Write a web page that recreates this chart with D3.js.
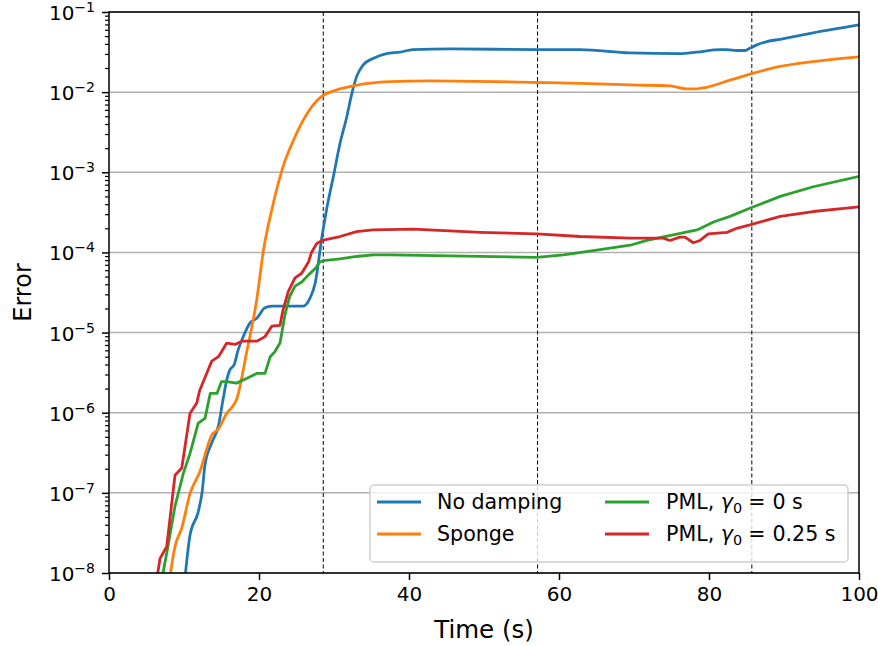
<!DOCTYPE html>
<html>
<head>
<meta charset="utf-8">
<script src="https://cdn.jsdelivr.net/npm/d3@7"></script>
<style>
  body { margin: 0; background: #fff; }
  svg text { font-family: "DejaVu Sans", sans-serif; fill: #000; }
</style>
</head>
<body>
<svg id="chart" width="878" height="646"></svg>
<script>
// Error against time for the four boundary treatments (s, absolute error)
const noDampingTime = [10.2, 10.8, 11.9, 12.4, 12.8, 13.7, 14.6, 15.2, 15.7, 16.1, 16.7, 17.2, 17.9, 18.8, 19.7, 20.8, 21.7, 25.9, 26.8, 27.5, 28.4, 29.0, 29.9, 30.8, 31.7, 32.4, 33.0, 33.9, 35.2, 37.0, 38.8, 40.5, 45.5, 57.0, 62.8, 69.5, 76.1, 78.4, 81.5, 82.4, 83.7, 84.8, 85.5, 86.4, 87.7, 89.5, 93.9, 100];
const noDampingError = [1e-8, 2.95e-8, 5.8e-8, 1.0e-7, 2.24e-7, 4.2e-7, 6.9e-7, 1.45e-6, 2.57e-6, 3.4e-6, 4.0e-6, 6.0e-6, 8.9e-6, 1.32e-5, 1.51e-5, 2.04e-5, 2.14e-5, 2.14e-5, 2.69e-5, 4.17e-5, 1.58e-4, 3.39e-4, 8.7e-4, 2.29e-3, 4.9e-3, 9.8e-3, 0.0155, 0.0219, 0.0263, 0.0302, 0.0316, 0.0339, 0.0347, 0.0339, 0.0339, 0.0309, 0.0302, 0.0316, 0.0339, 0.0339, 0.0331, 0.0331, 0.0355, 0.0389, 0.0427, 0.0457, 0.055, 0.069];

const spongeTime = [8.2, 8.8, 9.7, 10.8, 12.1, 13.7, 14.6, 15.7, 16.4, 17.0, 18.4, 19.7, 20.6, 21.7, 23.2, 24.6, 25.9, 27.2, 28.4, 30.4, 32.6, 37.5, 42.8, 57.0, 62.8, 69.5, 74.8, 77.0, 78.4, 79.7, 82.8, 85.7, 89.5, 93.9, 100];
const spongeError = [1e-8, 2.14e-8, 3.63e-8, 9.8e-8, 1.82e-7, 5.25e-7, 6.3e-7, 9.8e-7, 1.17e-6, 1.45e-6, 6.0e-6, 2.57e-5, 1.07e-4, 3.39e-4, 1.17e-3, 2.51e-3, 4.47e-3, 6.9e-3, 8.9e-3, 0.0107, 0.0120, 0.0135, 0.0138, 0.0132, 0.0129, 0.0123, 0.0120, 0.0110, 0.0110, 0.0115, 0.0141, 0.0170, 0.0209, 0.0240, 0.0275];

const pml0Time = [7.2, 7.7, 8.8, 9.9, 10.8, 11.9, 12.8, 13.5, 14.4, 15.0, 15.7, 17.0, 18.4, 19.7, 20.8, 21.5, 22.1, 22.8, 23.5, 24.1, 24.8, 25.7, 26.6, 27.5, 28.1, 28.6, 30.8, 33.0, 35.2, 37.5, 57.0, 60.6, 65.0, 69.5, 71.7, 78.4, 80.6, 82.8, 85.7, 89.5, 93.9, 100];
const pml0Error = [1e-8, 1.78e-8, 6.8e-8, 1.74e-7, 3.1e-7, 7.4e-7, 8.5e-7, 1.74e-6, 1.74e-6, 2.45e-6, 2.45e-6, 2.34e-6, 2.69e-6, 3.09e-6, 3.09e-6, 5.0e-6, 5.75e-6, 7.4e-6, 1.74e-5, 2.82e-5, 3.8e-5, 4.27e-5, 5.25e-5, 6.3e-5, 7.6e-5, 7.9e-5, 8.3e-5, 8.9e-5, 9.3e-5, 9.3e-5, 8.7e-5, 9.3e-5, 1.07e-4, 1.23e-4, 1.41e-4, 1.91e-4, 2.4e-4, 2.82e-4, 3.63e-4, 5.0e-4, 6.6e-4, 8.9e-4];

const pml25Time = [6.5, 6.8, 7.7, 8.8, 9.7, 10.8, 11.7, 12.1, 12.8, 13.7, 14.6, 15.7, 16.8, 17.7, 19.7, 20.8, 21.7, 22.8, 23.2, 23.9, 24.8, 25.7, 26.6, 27.0, 27.7, 28.4, 30.8, 33.0, 35.2, 40.6, 49.5, 57.0, 62.8, 69.5, 73.9, 74.8, 76.1, 76.8, 77.9, 78.8, 79.9, 82.4, 83.7, 85.7, 89.5, 93.9, 100];
const pml25Error = [1e-8, 1.51e-8, 2.14e-8, 1.66e-7, 2.04e-7, 9.8e-7, 1.32e-6, 1.91e-6, 2.75e-6, 4.4e-6, 5.0e-6, 7.4e-6, 7.1e-6, 7.8e-6, 7.8e-6, 8.9e-6, 1.2e-5, 1.23e-5, 1.91e-5, 3.24e-5, 4.8e-5, 5.5e-5, 7.6e-5, 1.0e-4, 1.29e-4, 1.41e-4, 1.58e-4, 1.82e-4, 1.91e-4, 1.95e-4, 1.78e-4, 1.70e-4, 1.58e-4, 1.51e-4, 1.51e-4, 1.41e-4, 1.55e-4, 1.55e-4, 1.32e-4, 1.41e-4, 1.70e-4, 1.78e-4, 2.0e-4, 2.24e-4, 2.82e-4, 3.24e-4, 3.7e-4];

// Region boundaries marked with dashed lines (s)
const boundaryTimes = [28.57, 57.14, 85.71];

const xTicks = [0, 20, 40, 60, 80, 100];
const yTickExponents = [-8, -7, -6, -5, -4, -3, -2, -1];

const seriesNames = ["No damping", "Sponge", "PML, γ0 = 0 s", "PML, γ0 = 0.25 s"];
const seriesColors = ["#1f77b4", "#ff7f0e", "#2ca02c", "#d62728"];

// Smooth curves for the undamped and sponge runs, straight segments for the PML runs
const series = [
  { name: seriesNames[0], color: seriesColors[0], t: noDampingTime, e: noDampingError, curve: d3.curveMonotoneX },
  { name: seriesNames[1], color: seriesColors[1], t: spongeTime, e: spongeError, curve: d3.curveMonotoneX },
  { name: seriesNames[2], color: seriesColors[2], t: pml0Time, e: pml0Error, curve: d3.curveLinear },
  { name: seriesNames[3], color: seriesColors[3], t: pml25Time, e: pml25Error, curve: d3.curveLinear }
];

const svg = d3.select("#chart");
const plot = { left: 109, right: 859, top: 12, bottom: 573 };
const FS = 20;

const x = d3.scaleLinear().domain([0, 100]).range([plot.left, plot.right]);
const y = d3.scaleLog().domain([1e-8, 1e-1]).range([plot.bottom, plot.top]);

svg.append("rect").attr("width", 878).attr("height", 646).attr("fill", "#fff");

svg.append("defs").append("clipPath").attr("id", "plotClip")
  .append("rect")
  .attr("x", plot.left).attr("y", plot.top)
  .attr("width", plot.right - plot.left).attr("height", plot.bottom - plot.top);

// Horizontal grid at each decade
svg.append("g").selectAll("line")
  .data(yTickExponents)
  .join("line")
  .attr("x1", plot.left).attr("x2", plot.right)
  .attr("y1", d => y(Math.pow(10, d))).attr("y2", d => y(Math.pow(10, d)))
  .attr("stroke", "#b0b0b0").attr("stroke-width", 1.5);

// Dashed region boundaries
svg.append("g").selectAll("line")
  .data(boundaryTimes)
  .join("line")
  .attr("x1", d => x(d)).attr("x2", d => x(d))
  .attr("y1", plot.top).attr("y2", plot.bottom)
  .attr("stroke", "#000").attr("stroke-width", 1)
  .attr("stroke-dasharray", "4,2.5");

// Error curves
svg.append("g").attr("clip-path", "url(#plotClip)")
  .selectAll("path")
  .data(series)
  .join("path")
  .attr("d", s => d3.line().curve(s.curve).x(d => x(d[0])).y(d => y(d[1]))(s.t.map((t, i) => [t, s.e[i]])))
  .attr("fill", "none")
  .attr("stroke", s => s.color)
  .attr("stroke-width", 2.8)
  .attr("stroke-linejoin", "round")
  .attr("stroke-linecap", "square");

// X axis
const xAxis = svg.append("g")
  .attr("transform", `translate(0,${plot.bottom})`)
  .call(d3.axisBottom(x).tickValues(xTicks).tickSize(7).tickPadding(7).tickFormat(d3.format("d")));
xAxis.select(".domain").remove();
xAxis.selectAll(".tick line").attr("stroke", "#000").attr("stroke-width", 1.5);
xAxis.selectAll(".tick text").attr("font-size", FS).attr("font-family", "DejaVu Sans").attr("fill", "#000");

// Y axis: minor ticks
const minorTicks = [];
for (let e = -8; e < -1; e++) for (let k = 2; k <= 9; k++) minorTicks.push(k * Math.pow(10, e));
const yMinor = svg.append("g")
  .attr("transform", `translate(${plot.left},0)`)
  .call(d3.axisLeft(y).tickValues(minorTicks).tickSize(4).tickFormat(""));
yMinor.select(".domain").remove();
yMinor.selectAll(".tick line").attr("stroke", "#000").attr("stroke-width", 1.2);

// Y axis: major ticks with power-of-ten labels
const yMajor = svg.append("g")
  .attr("transform", `translate(${plot.left},0)`)
  .call(d3.axisLeft(y).tickValues(yTickExponents.map(e => Math.pow(10, e))).tickSize(7).tickPadding(7).tickFormat(""));
yMajor.select(".domain").remove();
yMajor.selectAll(".tick line").attr("stroke", "#000").attr("stroke-width", 1.5);
yMajor.selectAll(".tick").each(function (d) {
  const exp = Math.round(Math.log10(d));
  const t = d3.select(this).select("text")
    .attr("x", -14).attr("dy", null).attr("y", 7.5)
    .attr("font-size", FS).attr("text-anchor", "end").attr("fill", "#000");
  t.text(null);
  t.append("tspan").text("10");
  t.append("tspan").attr("font-size", FS * 0.7).attr("dy", -8).text("\u2212" + Math.abs(exp));
});

// Spines
svg.append("rect")
  .attr("x", plot.left).attr("y", plot.top)
  .attr("width", plot.right - plot.left).attr("height", plot.bottom - plot.top)
  .attr("fill", "none").attr("stroke", "#000").attr("stroke-width", 1.5);

// Axis titles
svg.append("text")
  .attr("x", (plot.left + plot.right) / 2).attr("y", 638)
  .attr("text-anchor", "middle").attr("font-size", 24.5)
  .text("Time (s)");
svg.append("text")
  .attr("transform", `translate(31,${(plot.top + plot.bottom) / 2}) rotate(-90)`)
  .attr("text-anchor", "middle").attr("font-size", 24)
  .text("Error");

// Legend
const legend = svg.append("g");
legend.append("rect")
  .attr("x", 370).attr("y", 485).attr("width", 478).attr("height", 77)
  .attr("rx", 4).attr("fill", "#fff").attr("fill-opacity", 0.8)
  .attr("stroke", "#d0d0d0").attr("stroke-width", 1.5);

const legendPos = [
  { lx: 377, tx: 437, cy: 502 },
  { lx: 377, tx: 437, cy: 534 },
  { lx: 605, tx: 666, cy: 502 },
  { lx: 605, tx: 666, cy: 534 }
];
const LFS = 20.6;
series.forEach((s, i) => {
  const p = legendPos[i];
  legend.append("line")
    .attr("x1", p.lx).attr("x2", p.lx + 44).attr("y1", p.cy).attr("y2", p.cy)
    .attr("stroke", s.color).attr("stroke-width", 2.8);
  const txt = legend.append("text")
    .attr("x", p.tx).attr("y", p.cy + 7).attr("font-size", LFS)
    .style("white-space", "pre");
  const m = s.name.match(/^(.*?)γ0 = (.*)$/);
  if (m) {
    txt.append("tspan").text(m[1]);
    txt.append("tspan").attr("font-style", "italic").text("γ");
    txt.append("tspan").attr("font-size", LFS * 0.7).attr("dy", 4).text("0");
    txt.append("tspan").attr("dy", -4).attr("dx", 6).text("=");
    txt.append("tspan").attr("dx", 7).text(m[2]);
  } else {
    txt.text(s.name);
  }
});
</script>
</body>
</html>
